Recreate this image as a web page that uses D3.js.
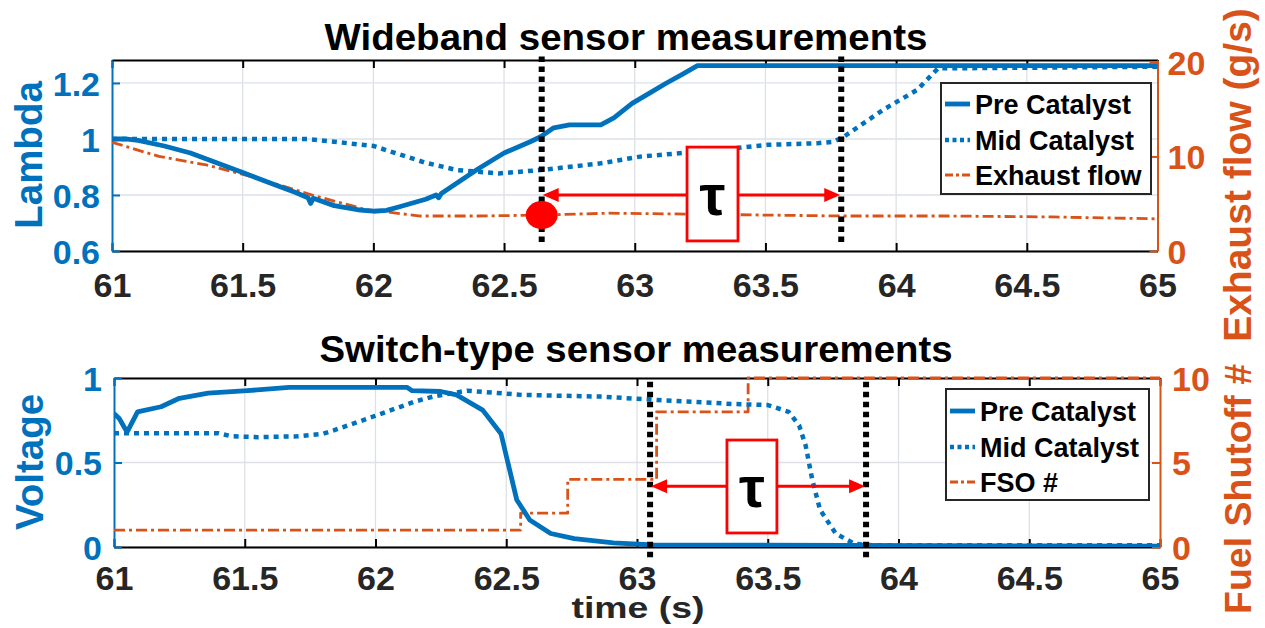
<!DOCTYPE html>
<html><head><meta charset="utf-8">
<script src="https://cdn.jsdelivr.net/npm/d3@7"></script>
<style>
html,body{margin:0;padding:0;background:#fff;}
svg{display:block;}
text{font-family:"Liberation Sans",Arial,Helvetica,sans-serif;font-weight:bold;}
</style></head>
<body><svg id="c" width="1265" height="628"></svg>
<script>
// ---------- data ----------
const xTicks = [61, 61.5, 62, 62.5, 63, 63.5, 64, 64.5, 65];
const xTickLabels = ["61","61.5","62","62.5","63","63.5","64","64.5","65"];
const lambdaTicks = [0.6, 0.8, 1, 1.2];
const lambdaTickLabels = ["0.6","0.8","1","1.2"];
const flowTicks = [0, 10, 20];
const flowTickLabels = ["0","10","20"];
const voltTicks = [0, 0.5, 1];
const voltTickLabels = ["0","0.5","1"];
const fsoTicks = [0, 5, 10];
const fsoTickLabels = ["0","5","10"];

// Wideband: pre catalyst lambda
const wbPreT = [61.00,61.05,61.10,61.20,61.30,61.40,61.50,61.60,61.70,61.75,61.76,61.77,61.85,61.95,62.00,62.05,62.10,62.20,62.24,62.25,62.26,62.30,62.40,62.50,62.60,62.64,62.69,62.75,62.87,62.92,62.99,63.05,63.12,63.18,63.24,65.00];
const wbPreV = [1.000,1.000,0.995,0.975,0.950,0.915,0.880,0.845,0.810,0.790,0.770,0.788,0.762,0.746,0.742,0.745,0.758,0.785,0.800,0.790,0.805,0.830,0.893,0.950,0.990,1.008,1.040,1.050,1.050,1.075,1.127,1.160,1.199,1.230,1.262,1.262];
// Wideband: mid catalyst lambda
const wbMidT = [61.00,61.75,61.85,62.00,62.10,62.20,62.32,62.48,62.64,62.87,63.02,63.25,63.51,63.70,63.76,63.80,63.95,64.08,64.16,65.00];
const wbMidV = [1.000,1.000,0.990,0.975,0.945,0.915,0.889,0.877,0.889,0.913,0.937,0.955,0.979,0.985,0.990,1.008,1.104,1.175,1.252,1.258];
// Wideband: exhaust flow (g/s)
const wbFlowT = [61.00,61.18,61.36,61.53,61.78,61.97,62.18,62.40,62.64,62.90,63.20,63.50,63.80,64.20,64.60,65.00];
const wbFlowV = [11.5,10.0,9.1,7.9,5.8,4.4,3.7,3.7,3.8,4.0,3.9,3.8,3.7,3.7,3.6,3.4];

// Switch-type: pre catalyst voltage
const swPreT = [61.00,61.02,61.05,61.09,61.18,61.25,61.36,61.51,61.67,62.12,62.14,62.25,62.31,62.41,62.48,62.51,62.54,62.59,62.67,62.76,62.91,63.06,65.00];
const swPreV = [0.79,0.76,0.68,0.80,0.83,0.88,0.91,0.925,0.945,0.945,0.925,0.92,0.90,0.81,0.67,0.475,0.28,0.16,0.08,0.05,0.025,0.012,0.005];
// Switch-type: mid catalyst voltage
const swMidT = [61.00,61.40,61.45,61.55,61.70,61.80,61.84,61.97,62.15,62.22,62.35,62.56,62.86,63.08,63.37,63.50,63.58,63.62,63.645,63.67,63.70,63.76,63.83,63.90,65.00];
const swMidV = [0.673,0.673,0.655,0.650,0.655,0.670,0.69,0.76,0.86,0.89,0.925,0.90,0.89,0.87,0.846,0.84,0.80,0.72,0.60,0.40,0.22,0.08,0.02,0.01,0.01];
// Switch-type: fuel shutoff number (steps)
const fsoT = [61.00,62.555,62.735,63.075,63.425,65.00];
const fsoV = [1,2,4,8,10,10];

// annotations (data units)
const wbMarkers = [62.644, 63.79];
const wbMarkerSpan = [0.632, 1.31];
const wbArrowLambda = 0.8;
const wbDot = [62.644, 3.8];
const wbTauBoxT = [63.20, 63.395];
const wbTauBoxL = [0.636, 0.971];
const swMarkers = [63.05, 63.876];
const swMarkerSpan = [-0.06, 0.988];
const swArrowVolt = 0.36;
const swTauBoxT = [63.344, 63.535];
const swTauBoxV = [0.083, 0.633];

const legendWB = ["Pre Catalyst","Mid Catalyst","Exhaust flow"];
const legendSW = ["Pre Catalyst","Mid Catalyst","FSO #"];

// ---------- style ----------
const BLUE = "#0072BD", ORANGE = "#D95319", RED = "#FF0000", DARK = "#262626";
const svg = d3.select("#c");

function zip(t, v){ return t.map((d,i)=>[d, v[i]]); }

function panel(o){
  const x = d3.scaleLinear().domain([61,65]).range([o.x0, o.x1]);
  const yl = d3.scaleLinear().domain(o.ylDomain).range([o.y0, o.y1]);
  const yr = d3.scaleLinear().domain(o.yrDomain).range([o.y0, o.y1]);
  const g = svg.append("g");
  // grid
  g.append("g").selectAll("line").data(xTicks.slice(1,-1)).join("line")
    .attr("x1",d=>x(d)).attr("x2",d=>x(d)).attr("y1",o.y0).attr("y2",o.y1)
    .attr("stroke","#dde1e6").attr("stroke-width",1.3);
  g.append("g").selectAll("line").data(o.ylTicks).join("line")
    .attr("x1",o.x0).attr("x2",o.x1).attr("y1",d=>yl(d)).attr("y2",d=>yl(d))
    .attr("stroke","#dde1e6").attr("stroke-width",1.3);
  // axes with D3
  const ax = g.append("g").attr("transform",`translate(0,${o.y0})`)
    .call(d3.axisBottom(x).tickValues(xTicks).tickFormat((d,i)=>xTickLabels[i]).tickSizeInner(-8).tickSizeOuter(0).tickPadding(14));
  ax.select(".domain").attr("stroke","#000").attr("stroke-width",2);
  ax.selectAll(".tick line").attr("stroke","#000").attr("stroke-width",2);
  ax.selectAll(".tick text").attr("fill",DARK).attr("font-size",34).attr("dy","0").attr("y",o.xLabelBase-o.y0);
  const axT = g.append("g").attr("transform",`translate(0,${o.y1})`)
    .call(d3.axisTop(x).tickValues(xTicks).tickFormat("").tickSizeInner(-8).tickSizeOuter(0));
  axT.select(".domain").attr("stroke","#000").attr("stroke-width",2);
  axT.selectAll(".tick line").attr("stroke","#000").attr("stroke-width",2);
  const axL = g.append("g").attr("transform",`translate(${o.x0},0)`)
    .call(d3.axisLeft(yl).tickValues(o.ylTicks).tickFormat((d,i)=>o.ylLabels[i]).tickSizeInner(-8).tickSizeOuter(0).tickPadding(12));
  axL.select(".domain").attr("stroke",BLUE).attr("stroke-width",2);
  axL.selectAll(".tick line").attr("stroke",BLUE).attr("stroke-width",2);
  axL.selectAll(".tick text").attr("fill",BLUE).attr("font-size",34).attr("dy","0.36em");
  const axR = g.append("g").attr("transform",`translate(${o.x1},0)`)
    .call(d3.axisRight(yr).tickValues(o.yrTicks).tickFormat((d,i)=>o.yrLabels[i]).tickSizeInner(-8).tickSizeOuter(0).tickPadding(o.rPad));
  axR.select(".domain").attr("stroke",ORANGE).attr("stroke-width",2);
  axR.selectAll(".tick line").attr("stroke",ORANGE).attr("stroke-width",2);
  axR.selectAll(".tick text").attr("fill",ORANGE).attr("font-size",34).attr("dy","0.36em");
  // clip
  const cid = "clip"+o.id;
  svg.append("clipPath").attr("id",cid).append("rect")
    .attr("x",o.x0).attr("y",o.y1-3).attr("width",o.x1-o.x0).attr("height",o.y0-o.y1+3);
  const lines = g.append("g").attr("clip-path",`url(#${cid})`);
  o.series.forEach(s=>{
    const ys = s.axis==="r" ? yr : yl;
    const line = d3.line().x(d=>x(d[0])).y(d=>ys(d[1])).curve(s.step?d3.curveStepAfter:d3.curveLinear);
    lines.append("path").datum(s.data).attr("d",line).attr("fill","none")
      .attr("stroke",s.color).attr("stroke-width",s.w).attr("stroke-dasharray",s.dash||null)
      .attr("stroke-linejoin","round");
  });
  return {g,x,yl,yr};
}

const styles = [
  {color:BLUE, w:4.8, dash:null},
  {color:BLUE, w:4.5, dash:"5,5"},
  {color:ORANGE, w:2.8, dash:"11,4,3,4"}
];

// ---------- top panel ----------
const P1 = panel({id:1, x0:112, x1:1157.5, y0:251, y1:60,
  ylDomain:[0.6,1.282], yrDomain:[0,20.2],
  ylTicks:lambdaTicks, ylLabels:lambdaTickLabels,
  yrTicks:flowTicks, yrLabels:flowTickLabels, rPad:10, xLabelBase:297,
  series:[
    Object.assign({data:zip(wbFlowT,wbFlowV),axis:"r"},styles[2]),
    Object.assign({data:zip(wbMidT,wbMidV),axis:"l"},styles[1]),
    Object.assign({data:zip(wbPreT,wbPreV),axis:"l"},styles[0])
  ]});

// ---------- bottom panel ----------
const P2 = panel({id:2, x0:114, x1:1160, y0:547, y1:378,
  ylDomain:[0,1], yrDomain:[0,10],
  ylTicks:voltTicks, ylLabels:voltTickLabels,
  yrTicks:fsoTicks, yrLabels:fsoTickLabels, rPad:12, xLabelBase:590,
  series:[
    Object.assign({data:zip(fsoT,fsoV),axis:"r",step:true},styles[2]),
    Object.assign({data:zip(swMidT,swMidV),axis:"l"},styles[1]),
    Object.assign({data:zip(swPreT,swPreV),axis:"l"},styles[0])
  ]});

// ---------- annotations ----------
function arrowHead(g, xTip, y, dir){
  const L=16, h=7;
  g.append("path").attr("d",`M${xTip},${y} L${xTip+dir*L},${y-h} L${xTip+dir*L},${y+h} Z`).attr("fill",RED);
}
function annotate(P, markers, span, arrowVal, boxT, boxV, tauSize){
  const {g,x,yl} = P;
  g.selectAll(null).data(markers).join("line")
    .attr("x1",d=>x(d)).attr("x2",d=>x(d)).attr("y1",yl(span[0])).attr("y2",yl(span[1]))
    .attr("stroke","#000").attr("stroke-width",6).attr("stroke-dasharray","5.5,4.5");
  const ya = yl(arrowVal), xa = x(markers[0]), xb = x(markers[1]);
  g.append("line").attr("x1",xa+14).attr("x2",xb-14).attr("y1",ya).attr("y2",ya)
    .attr("stroke",RED).attr("stroke-width",3);
  arrowHead(g, xa+1, ya, 1);
  arrowHead(g, xb-1, ya, -1);
  const bx0=x(boxT[0]), bx1=x(boxT[1]), by0=yl(boxV[1]), by1=yl(boxV[0]);
  g.append("rect").attr("x",bx0).attr("y",by0).attr("width",bx1-bx0).attr("height",by1-by0)
    .attr("fill","#fff").attr("stroke",RED).attr("stroke-width",2.8);
  g.append("text").attr("x",(bx0+bx1)/2).attr("y",(by0+by1)/2).attr("dy","0.36em")
    .attr("text-anchor","middle").attr("font-size",tauSize).attr("fill","#000").text("τ");
}
annotate(P1, wbMarkers, wbMarkerSpan, wbArrowLambda, wbTauBoxT, wbTauBoxL, 58);
P1.g.append("ellipse").attr("cx",P1.x(wbDot[0])).attr("cy",P1.yr(wbDot[1])).attr("rx",16).attr("ry",14).attr("fill",RED);
annotate(P2, swMarkers, swMarkerSpan, swArrowVolt, swTauBoxT, swTauBoxV, 58);

// ---------- legends ----------
function legend(x0, y0, w, h, rows, labels){
  const g = svg.append("g");
  g.append("rect").attr("x",x0).attr("y",y0).attr("width",w).attr("height",h)
    .attr("fill","#fff").attr("stroke","#262626").attr("stroke-width",2);
  labels.forEach((lab,i)=>{
    const y = rows[i];
    g.append("line").attr("x1",x0+4).attr("x2",x0+29).attr("y1",y).attr("y2",y)
      .attr("stroke",styles[i].color).attr("stroke-width",styles[i].w)
      .attr("stroke-dasharray", i===1?"4,3.5":(i===2?"8,3,3,3":null));
    g.append("text").attr("x",x0+34).attr("y",y).attr("dy","0.36em")
      .attr("font-size",27).attr("fill","#000").text(lab);
  });
}
legend(941, 83, 210, 111, [104,140,175], legendWB);
legend(946, 389, 203, 111, [411,447,482], legendSW);

// ---------- titles & labels ----------
svg.append("text").attr("x",626).attr("y",50).attr("text-anchor","middle").attr("font-size",36)
  .attr("textLength",603).attr("lengthAdjust","spacingAndGlyphs").attr("fill","#000").text("Wideband sensor measurements");
svg.append("text").attr("x",636).attr("y",362).attr("text-anchor","middle").attr("font-size",36)
  .attr("textLength",633).attr("lengthAdjust","spacingAndGlyphs").attr("fill","#000").text("Switch-type sensor measurements");
svg.append("text").attr("x",638).attr("y",618).attr("text-anchor","middle").attr("font-size",29)
  .attr("textLength",133).attr("lengthAdjust","spacingAndGlyphs").attr("fill",DARK).text("time (s)");
function vlabel(x, y, txt, color, size){
  svg.append("text").attr("transform",`translate(${x},${y}) rotate(-90)`).attr("text-anchor","middle")
    .attr("font-size",size).attr("fill",color).text(txt);
}
vlabel(42, 155, "Lambda", BLUE, 38.5);
vlabel(43, 462, "Voltage", BLUE, 38.5);
vlabel(1251, 175, "Exhaust flow (g/s)", ORANGE, 39);
vlabel(1251, 489, "Fuel Shutoff #", ORANGE, 37.5);
</script></body></html>
